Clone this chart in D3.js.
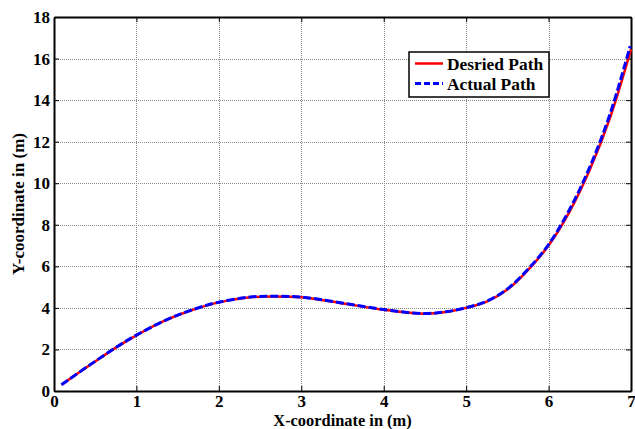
<!DOCTYPE html>
<html>
<head>
<meta charset="utf-8">
<script src="https://cdn.jsdelivr.net/npm/d3@7"></script>
<style>
  html, body { margin: 0; padding: 0; background: #fff; }
  svg { display: block; }
  svg text { font-family: "Liberation Serif", "Times New Roman", "DejaVu Serif", serif !important; font-weight: bold; fill: #000; }
</style>
</head>
<body>
<svg id="chart" width="635" height="429"></svg>
<script>
// Desired path samples (x, y in metres)
const desiredX = [0.09, 0.44, 0.76, 1.0, 1.37, 1.65, 1.97, 2.38, 2.66, 3.0, 3.47, 4.0, 4.48, 4.75, 5.0, 5.25, 5.5, 5.75, 6.0, 6.25, 6.5, 6.75, 7.0];
const desiredY = [0.30, 1.26, 2.11, 2.68, 3.43, 3.86, 4.24, 4.51, 4.55, 4.51, 4.24, 3.91, 3.72, 3.80, 4.0, 4.30, 4.88, 5.82, 7.0, 8.6, 10.65, 13.2, 16.44];

// Actual (tracked) path samples
const actualX = [0.09, 0.44, 0.76, 1.0, 1.37, 1.65, 1.97, 2.38, 2.66, 3.0, 3.47, 4.0, 4.48, 4.75, 5.0, 5.25, 5.5, 5.75, 6.0, 6.25, 6.5, 6.75, 6.99];
const actualY = [0.30, 1.27, 2.12, 2.69, 3.44, 3.87, 4.25, 4.52, 4.56, 4.52, 4.25, 3.92, 3.73, 3.81, 4.01, 4.32, 4.91, 5.86, 7.05, 8.7, 10.78, 13.38, 16.6];

const xTicks = [0, 1, 2, 3, 4, 5, 6, 7];
const yTicks = [0, 2, 4, 6, 8, 10, 12, 14, 16, 18];
const seriesNames = ["Desried Path", "Actual Path"];

const margin = { left: 54, right: 4, top: 17, bottom: 38 };
const W = 635, H = 429;
const svg = d3.select("#chart");

const x = d3.scaleLinear().domain([0, 7]).range([margin.left, W - margin.right]);
const y = d3.scaleLinear().domain([0, 18]).range([H - margin.bottom, margin.top]);

const x0 = x.range()[0], x1 = x.range()[1];
const y0 = y.range()[0], y1 = y.range()[1];

// Grid
const grid = svg.append("g").attr("stroke", "#8a8a8a").attr("stroke-width", 1).attr("stroke-dasharray", "1,1");
grid.selectAll("line.gx").data(xTicks.slice(1, -1)).join("line")
  .attr("x1", d => Math.round(x(d)) + 0.5).attr("x2", d => Math.round(x(d)) + 0.5)
  .attr("y1", y1).attr("y2", y0);
grid.selectAll("line.gy").data(yTicks.slice(1, -1)).join("line")
  .attr("y1", d => Math.round(y(d)) + 0.5).attr("y2", d => Math.round(y(d)) + 0.5)
  .attr("x1", x0).attr("x2", x1);

// Axes with inward ticks
const axisBottom = d3.axisBottom(x).tickValues(xTicks).tickSizeInner(-5).tickSizeOuter(0).tickPadding(4).tickFormat(d3.format("d"));
const axisLeft = d3.axisLeft(y).tickValues(yTicks).tickSizeInner(-5).tickSizeOuter(0).tickPadding(4).tickFormat(d3.format("d"));
const axisTop = d3.axisTop(x).tickValues(xTicks).tickSizeInner(-5).tickSizeOuter(0).tickFormat("");
const axisRight = d3.axisRight(y).tickValues(yTicks).tickSizeInner(-5).tickSizeOuter(0).tickFormat("");

function styleAxis(g) {
  g.attr("font-family", null).attr("font-size", null);
  g.select(".domain").attr("stroke", "#000").attr("stroke-width", 2);
  g.selectAll(".tick line").attr("stroke", "#000").attr("stroke-width", 1);
  g.selectAll(".tick text").style("font-size", "17px").attr("fill", "#000");
}

svg.append("g").attr("transform", `translate(0,${y0})`).call(axisBottom).call(styleAxis);
svg.append("g").attr("transform", `translate(${x0},0)`).call(axisLeft).call(styleAxis);
svg.append("g").attr("transform", `translate(0,${y1})`).call(axisTop).call(styleAxis);
svg.append("g").attr("transform", `translate(${x1},0)`).call(axisRight).call(styleAxis);

// Paths
const line = d3.line().x(d => x(d[0])).y(d => y(d[1])).curve(d3.curveCatmullRom.alpha(0.5));
const desired = desiredX.map((v, i) => [v, desiredY[i]]);
const actual = actualX.map((v, i) => [v, actualY[i]]);

svg.append("path").datum(desired).attr("d", line)
  .attr("fill", "none").attr("stroke", "#ff0000").attr("stroke-width", 2.5);
svg.append("path").datum(actual).attr("d", line)
  .attr("fill", "none").attr("stroke", "#0000ff").attr("stroke-width", 3).attr("stroke-dasharray", "8,3");

// Axis titles
svg.append("text").attr("x", (x0 + x1) / 2).attr("y", 426).attr("text-anchor", "middle")
  .style("font-size", "16.4px").text("X-coordinate in (m)");
svg.append("text").attr("transform", `translate(24,${(y0 + y1) / 2}) rotate(-90)`).attr("text-anchor", "middle")
  .style("font-size", "17px").text("Y-coordinate in (m)");

// Legend
const lg = svg.append("g").attr("transform", "translate(409,52)");
lg.append("rect").attr("width", 140).attr("height", 45).attr("fill", "#fff").attr("stroke", "#000").attr("stroke-width", 1.5);
const styles = [
  { color: "#ff0000", dash: null, width: 2.5 },
  { color: "#0000ff", dash: "6,3", width: 3 }
];
seriesNames.forEach((name, i) => {
  const yy = 11.5 + i * 20;
  lg.append("line").attr("x1", 6).attr("x2", 34).attr("y1", yy).attr("y2", yy)
    .attr("stroke", styles[i].color).attr("stroke-width", styles[i].width)
    .attr("stroke-dasharray", styles[i].dash);
  lg.append("text").attr("x", 38).attr("y", yy + 6).style("font-size", "17.4px").text(name);
});
</script>
</body>
</html>
